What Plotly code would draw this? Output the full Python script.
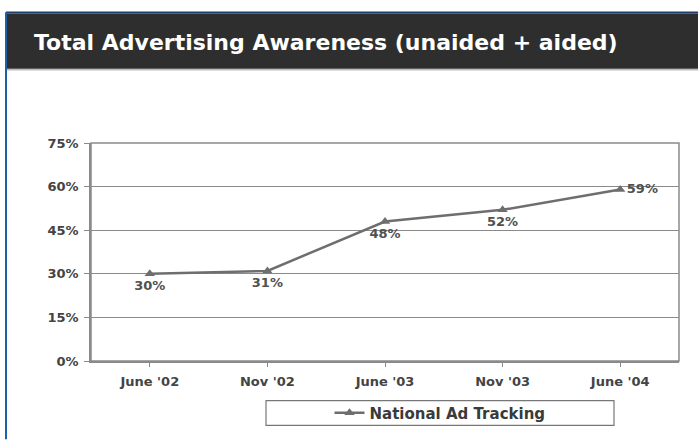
import plotly.graph_objects as go

categories = ["June '02", "Nov '02", "June '03", "Nov '03", "June '04"]
values = [30, 31, 48, 52, 59]
value_labels = ["30%", "31%", "48%", "52%", "59%"]
label_positions = ["bottom center", "bottom center", "bottom center", "bottom center", "middle right"]
y_ticks = [0, 15, 30, 45, 60, 75]
y_tick_labels = ["0%", "15%", "30%", "45%", "60%", "75%"]

W, H = 698, 442
L, R, T, B = 91, 19, 143, 79
pw, ph = W - L - R, H - T - B
FONT = "DejaVu Sans, Liberation Sans, Arial"

def px(x):
    return (x - L) / pw

def py(y):
    return (H - B - y) / ph

fig = go.Figure()
fig.add_trace(go.Scatter(
    x=categories, y=values, mode="lines+markers+text",
    name="National Ad Tracking",
    line=dict(color="#6e6e6e", width=2.5),
    marker=dict(symbol="triangle-up", size=9, color="#6e6e6e"),
    text=value_labels, textposition=label_positions,
    textfont=dict(family=FONT, size=13, color="#505050", weight="bold"),
    cliponaxis=False,
))

shapes = [
    dict(type="rect", xref="paper", yref="paper", x0=px(6), x1=px(698), y0=py(68), y1=py(12),
         fillcolor="#2e2e2e", line=dict(width=0), layer="below"),
    dict(type="line", xref="paper", yref="paper", x0=px(6), x1=px(698), y0=py(69), y1=py(69),
         line=dict(color="#bdbdbd", width=1.5)),
    dict(type="line", xref="paper", yref="paper", x0=px(6), x1=px(698), y0=py(11), y1=py(11),
         line=dict(color="#1c3f6e", width=1.5)),
    dict(type="line", xref="paper", yref="paper", x0=px(6), x1=px(6), y0=py(11), y1=py(442),
         line=dict(color="#1f5fa8", width=2)),
    dict(type="rect", xref="paper", yref="paper", x0=0, x1=1, y0=0, y1=1,
         line=dict(color="#8a8a8a", width=1.5)),
    dict(type="rect", xref="paper", yref="paper", x0=px(266), x1=px(614), y0=py(428), y1=py(403),
         line=dict(color="#777777", width=1.2), fillcolor="white"),
]

fig.update_layout(
    width=W, height=H,
    margin=dict(l=L, r=R, t=T, b=B, pad=0),
    paper_bgcolor="white", plot_bgcolor="white",
    shapes=shapes,
    showlegend=True,
    legend=dict(
        x=px(440), y=py(415.5), xanchor="center", yanchor="middle",
        orientation="h", bgcolor="rgba(0,0,0,0)", borderwidth=0,
        font=dict(family=FONT, size=15, color="#3a3a3a", weight="bold"),
        itemwidth=30,
    ),
    annotations=[dict(
        text="Total Advertising Awareness (unaided + aided)",
        xref="paper", yref="paper", x=px(32), y=py(42), xanchor="left", yanchor="middle",
        showarrow=False, font=dict(family=FONT, size=22, color="white", weight="bold"),
    )],
    xaxis=dict(
        type="category", range=[-0.5, 4.5], showgrid=False,
        showline=True, linecolor="#8a8a8a", linewidth=1.5,
        ticks="outside", ticklen=4, tickcolor="#8a8a8a",
        ticklabelstandoff=4,
        tickfont=dict(family=FONT, size=13, color="#444444", weight="bold"),
        fixedrange=True,
    ),
    yaxis=dict(
        range=[0, 75], tickvals=y_ticks, ticktext=y_tick_labels,
        showgrid=True, gridcolor="#8a8a8a", gridwidth=1.2,
        showline=True, linecolor="#8a8a8a", linewidth=1.5,
        ticks="outside", ticklen=5, tickcolor="#8a8a8a",
        ticklabelstandoff=3,
        tickfont=dict(family=FONT, size=13, color="#444444", weight="bold"),
        zeroline=False, fixedrange=True,
    ),
)

fig.write_html("out.html", config={"displayModeBar": False},
               post_script="document.body.style.margin='0';")
